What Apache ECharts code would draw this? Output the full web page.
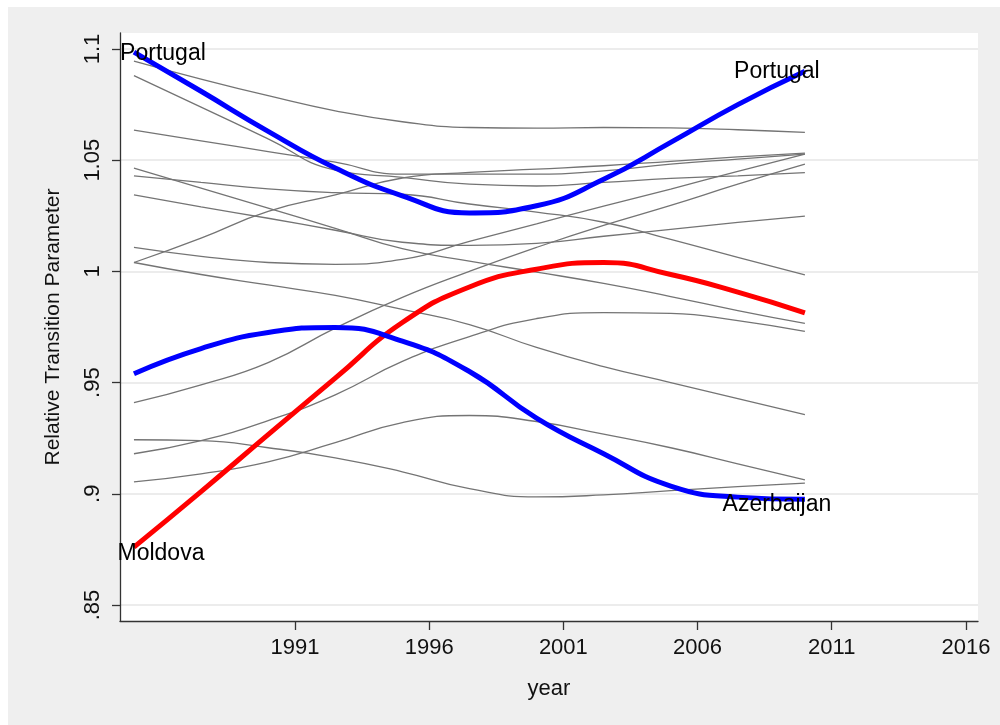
<!DOCTYPE html>
<html>
<head>
<meta charset="utf-8">
<script src="https://cdn.jsdelivr.net/npm/echarts@6.0.0/dist/echarts.min.js"></script>
<style>
    body { margin: 0; background: #ffffff; }
    #main { position: absolute; left: 8px; top: 7px; width: 992px; height: 718px; }
</style>
</head>
<body>
<div id="main"></div>
<script>
// 年份 (x)
var years = [1985, 1987.5, 1990, 1992.5, 1995, 1997.5, 2000, 2002.5, 2005, 2007.5, 2010];
var xTicks = [1991, 1996, 2001, 2006, 2011, 2016];
var yTicks = [0.85, 0.9, 0.95, 1, 1.05, 1.1];

// 突出显示的国家
var portugal   = [1.0986, 1.0810, 1.0630, 1.0465, 1.0340, 1.0263, 1.0295, 1.0414, 1.058, 1.075, 1.090];
var azerbaijan = [0.954, 0.9653, 0.9725, 0.9748, 0.9686, 0.955, 0.9340, 0.9180, 0.9035, 0.8985, 0.8975];
var moldova    = [0.876, 0.9010, 0.9266, 0.9520, 0.9770, 0.9930, 1.001, 1.004, 0.9986, 0.9907, 0.9814];

// 其他国家 (灰线)
var other1  = [1.0946, 1.0865, 1.079, 1.0722, 1.0673, 1.0647, 1.0644, 1.0647, 1.0645, 1.0637, 1.0625];
var other2  = [1.088, 1.0739, 1.0596, 1.0455, 1.0423, 1.0392, 1.0384, 1.040, 1.0418, 1.043, 1.0444];
var other3  = [1.0635, 1.0587, 1.0539, 1.0491, 1.0437, 1.0437, 1.0437, 1.0452, 1.0482, 1.0505, 1.0527];
var other4  = [1.004, 1.015, 1.027, 1.0344, 1.042, 1.0445, 1.046, 1.0475, 1.0495, 1.0515, 1.0532];
var other5  = [1.0464, 1.0374, 1.0284, 1.0194, 1.0102, 1.0046, 0.9997, 0.9946, 0.9887, 0.9824, 0.9766];
var other6  = [1.043, 1.040, 1.0371, 1.0354, 1.0347, 1.0303, 1.0267, 1.0221, 1.0144, 1.0063, 0.9984];
var other7  = [1.0344, 1.029, 1.0239, 1.0185, 1.0131, 1.0117, 1.0126, 1.0158, 1.0189, 1.022, 1.0249];
var other8  = [1.0108, 1.0068, 1.004, 1.0032, 1.0054, 1.0135, 1.0214, 1.0293, 1.037, 1.045, 1.0527];
var other9  = [0.941, 0.9490, 0.9590, 0.9745, 0.9883, 1.0, 1.0108, 1.0207, 1.0297, 1.0392, 1.0482];
var other10 = [1.004, 0.9986, 0.9939, 0.9892, 0.9829, 0.9761, 0.9658, 0.9572, 0.95, 0.9428, 0.9356];
var other11 = [0.918, 0.9239, 0.9329, 0.9445, 0.9595, 0.9707, 0.9788, 0.9815, 0.9811, 0.9779, 0.973];
var other12 = [0.9054, 0.909, 0.9144, 0.9230, 0.9320, 0.9352, 0.9325, 0.9268, 0.9207, 0.9135, 0.9063];
var other13 = [0.9243, 0.9239, 0.9207, 0.9162, 0.9099, 0.9023, 0.8986, 0.8995, 0.9014, 0.9032, 0.9048];

var others = [other1, other2, other3, other4, other5, other6, other7, other8, other9, other10, other11, other12, other13];

var font = 'Liberation Sans, Arial, Helvetica, sans-serif';

function pairs(vals) {
    var res = [];
    for (var i = 0; i < years.length; i++) {
        res.push([years[i], vals[i]]);
    }
    return res;
}

function lineSeries(name, vals, color, width, z) {
    return {
        name: name,
        type: 'line',
        data: pairs(vals),
        smooth: 0.5,
        showSymbol: false,
        silent: true,
        z: z,
        lineStyle: { color: color, width: width },
        itemStyle: { color: color }
    };
}

// 国家名标签
function nameLabel(text, vals, idx, offset) {
    return {
        value: [years[idx], vals[idx]],
        label: { show: true, formatter: text, offset: offset }
    };
}

function myChart1() {
    var chart = echarts.init(document.getElementById('main'));
    var series = [];
    for (var i = 0; i < others.length; i++) {
        series.push(lineSeries('other' + (i + 1), others[i], '#747474', 1.3, 2));
    }
    series.push(lineSeries('Moldova', moldova, '#ff0000', 5, 3));
    series.push(lineSeries('Azerbaijan', azerbaijan, '#0000ff', 5, 4));
    series.push(lineSeries('Portugal', portugal, '#0000ff', 5, 4));
    series.push({
        type: 'scatter',
        symbol: 'circle',
        symbolSize: 1,
        silent: true,
        z: 10,
        itemStyle: { color: '#000', opacity: 0 },
        label: {
            show: true,
            position: 'inside',
            color: '#000',
            opacity: 1,
            textBorderWidth: 0,
            fontFamily: font,
            fontSize: 23
        },
        data: [
            nameLabel('Portugal', portugal, 0, [29, 2]),
            nameLabel('Portugal', portugal, portugal.length - 1, [-28, 0]),
            nameLabel('Azerbaijan', azerbaijan, azerbaijan.length - 1, [-28, 5]),
            nameLabel('Moldova', moldova, 0, [27, 6])
        ]
    });

    var option = {
        backgroundColor: '#efefef',
        animation: false,
        grid: {
            left: 112, top: 26, right: 22, bottom: 104,
            show: true, backgroundColor: '#ffffff', borderWidth: 0
        },
        xAxis: {
            type: 'value',
            min: 1984.48,
            max: 2016.45,
            name: 'year',
            nameLocation: 'middle',
            nameGap: 57,
            nameTextStyle: { color: '#111', fontFamily: font, fontSize: 22 },
            axisLine: { show: true, lineStyle: { color: '#333', width: 1.3 } },
            axisTick: { show: true, length: 9, customValues: xTicks, lineStyle: { color: '#333', width: 1.3 } },
            axisLabel: {
                customValues: xTicks,
                margin: 16,
                color: '#111',
                fontFamily: font,
                fontSize: 22,
                formatter: function (v) { return String(v); }
            },
            splitLine: { show: false }
        },
        yAxis: {
            type: 'value',
            min: 0.8428,
            max: 1.1072,
            name: 'Relative Transition Parameter',
            nameLocation: 'middle',
            nameGap: 56,
            nameTextStyle: { color: '#111', fontFamily: font, fontSize: 21 },
            axisLine: { show: true, lineStyle: { color: '#333', width: 1.3 } },
            axisTick: { show: true, length: 8, customValues: yTicks, lineStyle: { color: '#333', width: 1.3 } },
            axisLabel: {
                customValues: yTicks,
                rotate: 90,
                margin: 16,
                color: '#111',
                fontFamily: font,
                fontSize: 22,
                formatter: function (v) {
                    return String(Math.round(v * 100) / 100).replace(/^0\./, '.');
                }
            },
            splitLine: { show: true, lineStyle: { color: '#e6e6e6', width: 1.5 } }
        },
        series: series
    };
    chart.setOption(option);
}

myChart1();
</script>
</body>
</html>
